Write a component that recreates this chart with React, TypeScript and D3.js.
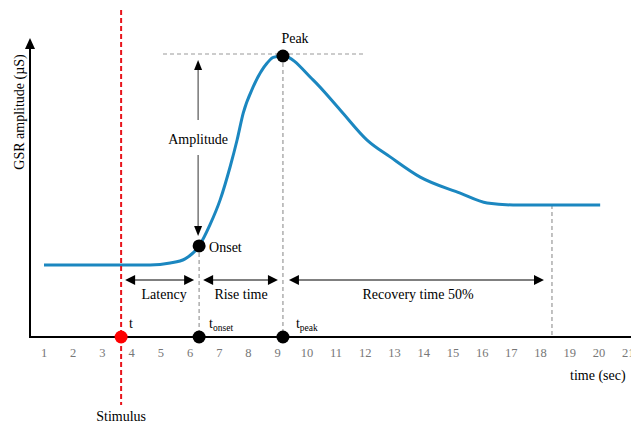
import React from "react";
import * as d3 from "d3";

const tickLabels = [1, 2, 3, 4, 5, 6, 7, 8, 9, 10, 11, 12, 13, 14, 15, 16, 17, 18, 19, 20, 21];
const curveTime = [1, 4.63, 5.32, 5.83, 6.31, 6.68, 7.03, 7.37, 7.61, 7.82, 8.16, 8.64, 8.85, 9.18, 10.21, 11.14, 12.06, 12.85, 13.88, 15.25, 16.17, 17.06, 20.04];
const curveValue = [2.56, 2.56, 2.63, 2.78, 3.24, 3.99, 4.88, 6.05, 7.01, 7.97, 8.9, 9.75, 9.95, 10.0, 9.15, 8.08, 7.01, 6.41, 5.69, 5.12, 4.77, 4.7, 4.7];
const stimulusTime = 3.64;
const onsetTime = 6.31;
const onsetValue = 3.24;
const peakTime = 9.18;
const peakValue = 10.0;
const recoveryTime = 18.39;
const recoveryValue = 4.7;

const W = 631;
const H = 423;
const FONT = "Liberation Serif, Tinos, Times New Roman, DejaVu Serif, serif";

export default function App() {
  const x = d3.scaleLinear().domain([1, 20]).range([44, 599]);
  const y = d3.scaleLinear().domain([0, 10]).range([337, 56]);
  const pts: [number, number][] = curveTime.map((t, i) => [t, curveValue[i]]);
  const line = d3
    .line<[number, number]>()
    .x((d) => x(d[0]))
    .y((d) => y(d[1]))
    .curve(d3.curveMonotoneX);

  const axisY = y(0);
  const arrowY = 280;
  const xs = x(stimulusTime);
  const xo = x(onsetTime);
  const xp = x(peakTime);
  const xr = x(recoveryTime);

  const hArrow = (x1: number, x2: number, key: string) => (
    <g key={key}>
      <line x1={x1 + 8} x2={x2 - 8} y1={arrowY} y2={arrowY} stroke="#000" strokeWidth={1} />
      <path d={`M${x1},${arrowY} L${x1 + 10},${arrowY - 5} L${x1 + 10},${arrowY + 5} Z`} fill="#000" />
      <path d={`M${x2},${arrowY} L${x2 - 10},${arrowY - 5} L${x2 - 10},${arrowY + 5} Z`} fill="#000" />
    </g>
  );

  const ampX = xo - 1;
  const ampTop = y(peakValue) + 4;
  const ampBot = y(onsetValue) - 10;

  const ts = { fontFamily: FONT };
  const FS = 14;

  return (
    <svg width={W} height={H} style={{ position: "fixed", left: 0, top: 0, fontFamily: FONT }}>
      <rect width={W} height={H} fill="#fff" />
      {/* dashed guides */}
      <line x1={163} x2={366} y1={y(peakValue) - 2} y2={y(peakValue) - 2} stroke="#999" strokeWidth={1.2} strokeDasharray="4,3" />
      <line x1={xo} x2={xo} y1={y(onsetValue)} y2={axisY} stroke="#999" strokeWidth={1.2} strokeDasharray="4,3" />
      <line x1={xp} x2={xp} y1={y(peakValue)} y2={axisY} stroke="#999" strokeWidth={1.2} strokeDasharray="4,3" />
      <line x1={xr} x2={xr} y1={y(recoveryValue)} y2={axisY} stroke="#999" strokeWidth={1.2} strokeDasharray="4,3" />

      {/* axes */}
      <line x1={30} x2={W} y1={axisY} y2={axisY} stroke="#000" strokeWidth={2} />
      <line x1={30} x2={30} y1={axisY + 1} y2={48} stroke="#000" strokeWidth={2} />
      <path d={`M30,38 L25,49 L35,49 Z`} fill="#000" />

      {tickLabels.map((t) => (
        <text key={t} x={x(t)} y={357} textAnchor="middle" fontSize={12.5} fill="#777" style={ts}>
          {t}
        </text>
      ))}
      <text x={570} y={380} fontSize={FS} fill="#000" style={ts}>time (sec)</text>
      <text transform={`translate(24,112) rotate(-90)`} textAnchor="middle" fontSize={FS} fill="#000" style={ts}>
        GSR amplitude (µS)
      </text>

      {/* curve */}
      <path d={line(pts) || ""} fill="none" stroke="#1b87c0" strokeWidth={3} />

      {/* stimulus */}
      <line x1={xs} x2={xs} y1={10} y2={405} stroke="#e8141b" strokeWidth={2} strokeDasharray="5,3" />
      <text x={xs} y={421} textAnchor="middle" fontSize={FS} fill="#000" style={ts}>Stimulus</text>

      {/* amplitude arrow */}
      <line x1={ampX} x2={ampX} y1={ampTop + 8} y2={120} stroke="#333" strokeWidth={1} />
      <line x1={ampX} x2={ampX} y1={155} y2={ampBot - 8} stroke="#333" strokeWidth={1} />
      <path d={`M${ampX},${ampTop} L${ampX - 4},${ampTop + 10} L${ampX + 4},${ampTop + 10} Z`} fill="#000" />
      <path d={`M${ampX},${ampBot} L${ampX - 4},${ampBot - 10} L${ampX + 4},${ampBot - 10} Z`} fill="#000" />
      <text x={ampX} y={144} textAnchor="middle" fontSize={FS} fill="#000" style={ts}>Amplitude</text>

      {/* interval arrows */}
      {hArrow(xs + 4, xo - 5, "lat")}
      {hArrow(xo + 4, xp - 5, "rise")}
      {hArrow(xp + 6, xr - 8, "rec")}
      <text x={(xs + xo) / 2 + 4} y={299} textAnchor="middle" fontSize={FS} fill="#000" style={ts}>Latency</text>
      <text x={(xo + xp) / 2} y={299} textAnchor="middle" fontSize={FS} fill="#000" style={ts}>Rise time</text>
      <text x={418} y={299} textAnchor="middle" fontSize={FS} fill="#000" style={ts}>Recovery time 50%</text>

      {/* points */}
      <circle cx={xs} cy={axisY} r={6.5} fill="#f00" />
      <circle cx={xo} cy={axisY} r={6.5} fill="#000" />
      <circle cx={xp} cy={axisY} r={6.5} fill="#000" />
      <circle cx={xo} cy={y(onsetValue)} r={6.5} fill="#000" />
      <circle cx={xp} cy={y(peakValue)} r={6.5} fill="#000" />

      <text x={xs + 8} y={328} fontSize={FS} fill="#000" style={ts}>t</text>
      <text x={xo + 10} y={328} fontSize={FS} fill="#000" style={ts}>
        t<tspan fontSize={9.5} dy={3}>onset</tspan>
      </text>
      <text x={xp + 13} y={328} fontSize={FS} fill="#000" style={ts}>
        t<tspan fontSize={9.5} dy={3}>peak</tspan>
      </text>
      <text x={xo + 10} y={252} fontSize={FS} fill="#000" style={ts}>Onset</text>
      <text x={295} y={43} textAnchor="middle" fontSize={FS} fill="#000" style={ts}>Peak</text>
    </svg>
  );
}
